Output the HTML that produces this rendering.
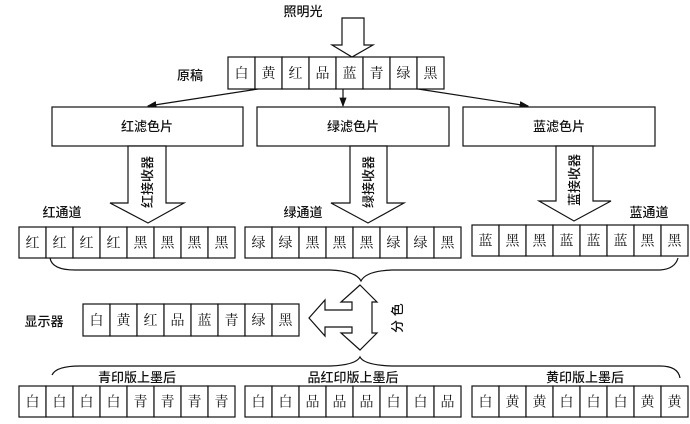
<!DOCTYPE html>
<html><head><meta charset="utf-8"><style>
body{margin:0;background:#fff;}
svg{display:block;}
text{font-family:"Liberation Sans","Noto Sans CJK SC",sans-serif;font-size:13px;fill:#111;font-weight:500;}
#ct text{font-family:"Liberation Serif","Noto Serif CJK SC",serif;font-size:14px;font-weight:400;}
</style></head><body>
<svg width="690" height="424" viewBox="0 0 690 424" xmlns="http://www.w3.org/2000/svg">
<defs><marker id="ah" markerWidth="8" markerHeight="6" refX="7" refY="3" orient="auto"><path d="M0,0 L8,3 L0,6 z" fill="#111"/></marker></defs>
<g stroke="#111" stroke-width="1.2" fill="none">
<polygon points="342,18 364,18 364,45 373,45 352,57 332,45 342,45" fill="#fff"/>
<line x1="258" y1="89" x2="148" y2="106" marker-end="url(#ah)"/>
<line x1="343" y1="89" x2="343" y2="106" marker-end="url(#ah)"/>
<line x1="418" y1="89" x2="528" y2="106" marker-end="url(#ah)"/>
<rect x="52" y="107" width="191" height="39" fill="#fff"/>
<rect x="257" y="107" width="192" height="39" fill="#fff"/>
<rect x="463" y="107" width="192" height="39" fill="#fff"/>
<polygon points="128,146 166,146 166,203 184,203 148,223 110,203 128,203" fill="#fff"/>
<polygon points="350,146 387,146 387,203 404,203 368,223 331,203 350,203" fill="#fff"/>
<polygon points="556,146 593,146 593,201 611,201 574,221 539,201 556,201" fill="#fff"/>
<path d="M50,258 Q52,270 75,270 L330,270 Q356,271 361,281 Q366,271 392,270 L660,270 Q675,269 678,258"/>
<path d="M52,375 Q56,366 80,366 L330,366 Q356,365 360,357 Q364,365 392,366 L660,366 Q678,366 680,378"/>
<polygon points="360,285 377,302 372,302 372,333 377,333 360,350 341,333 352,333 352,327 325,327 325,336 309,318 325,300 325,310 352,310 352,302 341,302" fill="#fff"/>
</g>
<g id="cells" stroke="#111" stroke-width="1.2" fill="#fff"></g>
<text x="303" y="16" text-anchor="middle">照明光</text>
<text x="190" y="80" text-anchor="middle">原稿</text>
<text x="147" y="131" text-anchor="middle">红滤色片</text>
<text x="353" y="131" text-anchor="middle">绿滤色片</text>
<text x="559" y="131" text-anchor="middle">蓝滤色片</text>
<text transform="translate(152,182) rotate(-90)" text-anchor="middle">红接收器</text>
<text transform="translate(373,182) rotate(-90)" text-anchor="middle">绿接收器</text>
<text transform="translate(579,180) rotate(-90)" text-anchor="middle">蓝接收器</text>
<text x="62" y="217" text-anchor="middle">红通道</text>
<text x="303" y="217" text-anchor="middle">绿通道</text>
<text x="649" y="217" text-anchor="middle">蓝通道</text>
<text x="44" y="326" text-anchor="middle">显示器</text>
<text transform="translate(402,318) rotate(-90)" text-anchor="middle">分 色</text>
<text x="137" y="382" text-anchor="middle">青印版上墨后</text>
<text x="353" y="382" text-anchor="middle">品红印版上墨后</text>
<text x="585" y="382" text-anchor="middle">黄印版上墨后</text>
<g id="ct"></g>
<script>
var rows=[
[228,57,32,"白黄红品蓝青绿黑"],
[19,227,31,"红红红红黑黑黑黑"],
[245,227,31,"绿绿黑黑黑绿绿黑"],
[472,225,31,"蓝黑黑蓝蓝蓝黑黑"],
[83,304,32,"白黄红品蓝青绿黑"],
[19,386,31,"白白白白青青青青"],
[245,386,31,"白白品品品白白品"],
[472,386,31,"白黄黄白白白黄黄"]];
var ns="http://www.w3.org/2000/svg",g=document.getElementById("cells"),t=document.getElementById("ct");
rows.forEach(function(r){for(var i=0;i<8;i++){var x=r[0]+i*27;
var e=document.createElementNS(ns,"rect");e.setAttribute("x",x);e.setAttribute("y",r[1]);e.setAttribute("width",27);e.setAttribute("height",r[2]);g.appendChild(e);
var s=document.createElementNS(ns,"text");s.setAttribute("x",x+13.5);s.setAttribute("y",r[1]+r[2]/2+5);s.setAttribute("text-anchor","middle");s.textContent=r[3][i];t.appendChild(s);}});
</script>
</svg>
</body></html>
